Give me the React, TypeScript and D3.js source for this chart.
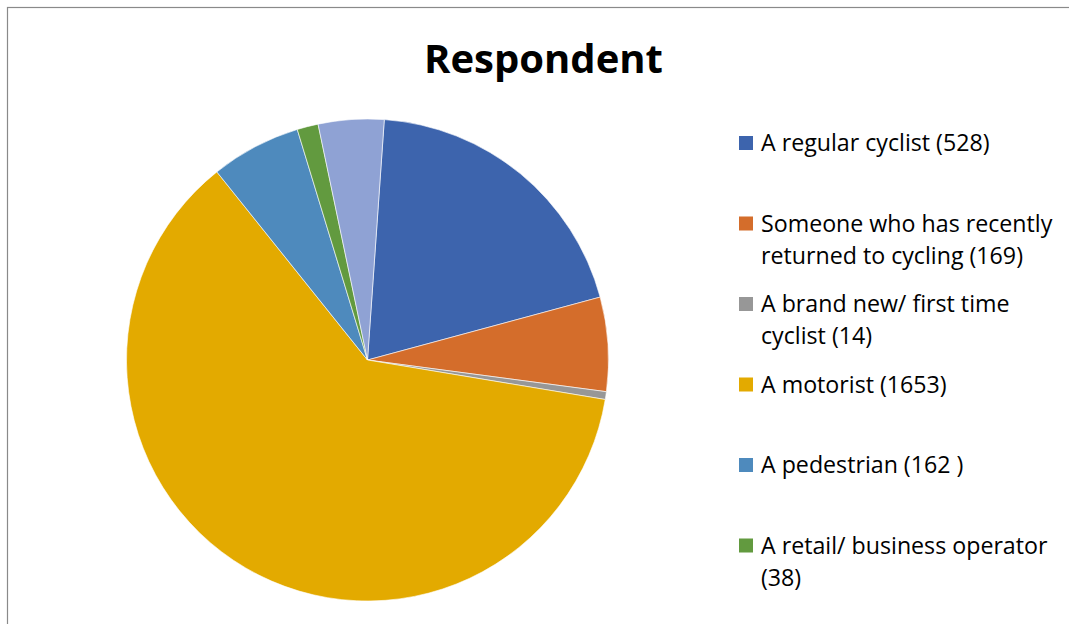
import React from "react";
import * as d3 from "d3";

const categories = [
  "A regular cyclist (528)",
  "Someone who has recently returned to cycling (169)",
  "A brand new/ first time cyclist (14)",
  "A motorist (1653)",
  "A pedestrian (162 )",
  "A retail/ business operator (38)",
  "Other",
];
const values = [528, 169, 14, 1653, 162, 38, 118];
const colors = ["#3D64AD", "#D46D2B", "#979797", "#E3AA00", "#4E8ABD", "#629A3F", "#8FA2D4"];
const legendLines = [
  ["A regular cyclist (528)"],
  ["Someone who has recently", "returned to cycling (169)"],
  ["A brand new/ first time", "cyclist (14)"],
  ["A motorist (1653)"],
  ["A pedestrian (162 )"],
  ["A retail/ business operator", "(38)"],
];
const title = "Respondent";

export default function App() {
  const W = 1069;
  const H = 624;
  const cx = 367.5;
  const cy = 360;
  const r = 241;
  const start = (4 * Math.PI) / 180;
  const pie = d3
    .pie<number>()
    .sort(null)
    .value((d) => d)
    .startAngle(start)
    .endAngle(start + 2 * Math.PI);
  const arcs = pie(values);
  const arc = d3.arc<d3.PieArcDatum<number>>().innerRadius(0).outerRadius(r);

  const legendY = d3.scaleLinear().domain([0, 1]).range([143, 223.5]);

  return (
    <svg
      width={W}
      height={H}
      style={{ position: "absolute", left: 0, top: 0, background: "#fff" }}
      fontFamily="'Open Sans', Lato, sans-serif"
    >
      <rect x={7.5} y={7.5} width={W + 20} height={H + 20} fill="#fff" stroke="#8a8a8a" strokeWidth={1.2} />
      <text x={543.5} y={73} textAnchor="middle" fontSize={40} fontWeight="bold" fill="#000">
        {title}
      </text>
      <g transform={`translate(${cx},${cy})`}>
        {arcs.map((a, i) => (
          <path key={categories[i]} d={arc(a) || ""} fill={colors[i]} stroke="#fff" strokeWidth={0.6} />
        ))}
      </g>
      <g>
        {legendLines.map((lines, i) => {
          const yc = legendY(i);
          return (
            <g key={i}>
              <rect x={739} y={yc - 7} width={14} height={14} fill={colors[i]} />
              {lines.map((t, j) => (
                <text key={j} x={761} y={yc + 8} fontSize={23.2} fill="#000" dy={j * 32}>
                  {t}
                </text>
              ))}
            </g>
          );
        })}
      </g>
    </svg>
  );
}
